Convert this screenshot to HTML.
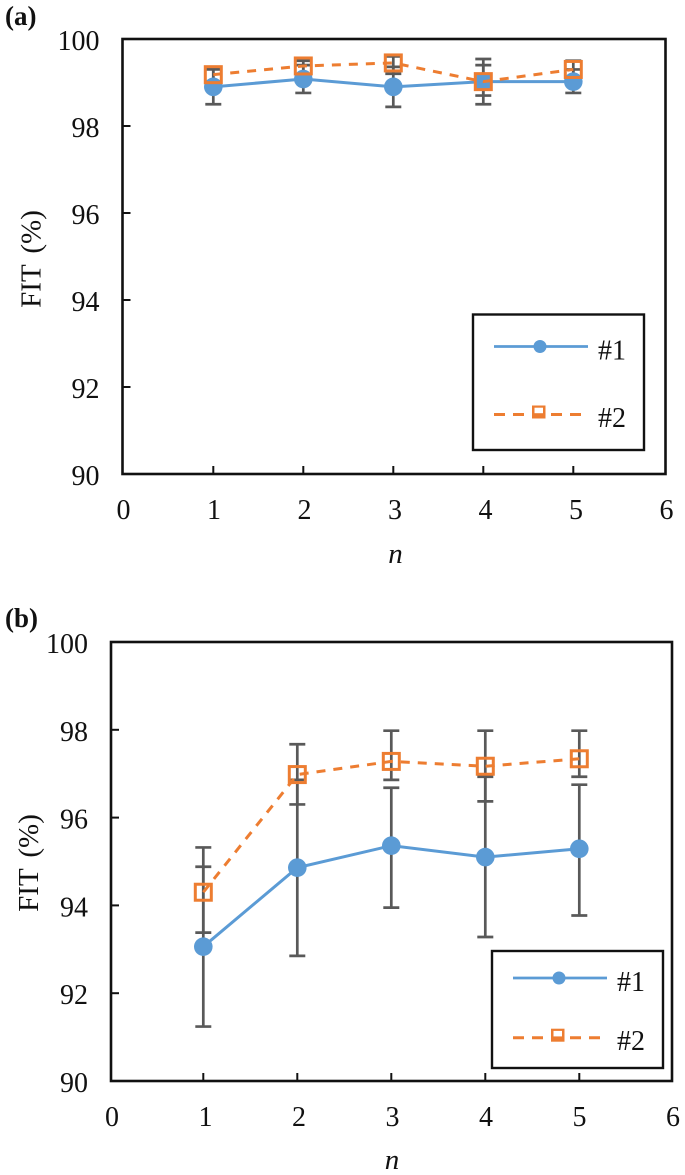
<!DOCTYPE html>
<html lang="en">
<head>
<meta charset="utf-8">
<title>FIT versus n</title>
<style>
html,body{margin:0;padding:0;background:#fff;}
svg{display:block;}
text{font-family:"Liberation Serif",serif;fill:#111;}
</style>
</head>
<body>
<svg id="figure" width="685" height="1175" viewBox="0 0 685 1175" xmlns="http://www.w3.org/2000/svg"></svg>
<script>
// Shared tick labels
const xTickLabels = [0, 1, 2, 3, 4, 5, 6];
const yTickLabels = [90, 92, 94, 96, 98, 100];
const nValues = [1, 2, 3, 4, 5];

// Panel (a) values
const aSeries1 = [98.9, 99.08, 98.9, 99.02, 99.02];
const aSeries1Low = [98.5, 98.76, 98.44, 98.5, 98.76];
const aSeries1High = [99.3, 99.4, 99.36, 99.54, 99.3];
const aSeries2 = [99.18, 99.38, 99.45, 99.02, 99.3];
const aSeries2Low = [99.02, 99.2, 99.2, 98.7, 99.1];
const aSeries2High = [99.34, 99.5, 99.6, 99.4, 99.5];

// Panel (b) values
const bSeries1 = [93.06, 94.86, 95.36, 95.1, 95.29];
const bSeries1Low = [91.24, 92.85, 93.95, 93.28, 93.77];
const bSeries1High = [94.88, 96.86, 96.68, 96.93, 96.75];
const bSeries2 = [94.3, 96.98, 97.28, 97.17, 97.34];
const bSeries2Low = [93.38, 96.3, 96.86, 96.37, 96.93];
const bSeries2High = [95.32, 97.67, 97.98, 97.98, 97.98];

const svg = document.getElementById('figure');
const NS = 'http://www.w3.org/2000/svg';
const BLUE = '#5b9bd5', ORANGE = '#ed7d31', GREY = '#595959', BLACK = '#111';

function make(tag, parent, attrs, content) {
  const el = document.createElementNS(NS, tag);
  for (const k in attrs) el.setAttribute(k, attrs[k]);
  if (content !== undefined) el.textContent = content;
  parent.appendChild(el);
  return el;
}

function drawPanel(p) {
  const g = make('g', svg, {});
  
  

  const xScale = v => p.x0 + v * p.xStep;
  const xLabelScale = v => p.left + v / 6 * (p.right - p.left);
  const yScale = v => p.bottom - (v - 90) / 10 * (p.bottom - p.top);

  const plotArea = make('rect', g, {x: p.left, y: p.top, width: p.right - p.left, height: p.bottom - p.top, fill: '#fff', stroke: BLACK, 'stroke-width': 2.6});
  
  

  const panelLabel = make('text', g, {x: 5, y: p.labelY, 'font-size': 27, 'font-weight': 'bold'}, '(' + p.id + ')');
  
  

  xTickLabels.forEach(t => {
    if (t > 0 && t < 6) {
      const x = xScale(t);
      const tick = make('line', g, {x1: x, x2: x, y1: p.bottom, y2: p.bottom - 8, stroke: BLACK, 'stroke-width': 2});
      
      
    }
    const label = make('text', g, {x: xLabelScale(t) + 1, y: p.bottom + 45, 'font-size': 28, 'text-anchor': 'middle'}, t);
    
    
  });

  yTickLabels.forEach(t => {
    const y = yScale(t);
    if (t > 90 && t < 100) {
      const tick = make('line', g, {x1: p.left, x2: p.left + 8, y1: y, y2: y, stroke: BLACK, 'stroke-width': 2});
      
      
    }
    const label = make('text', g, {x: p.left - 23, y: y + 11, 'font-size': 28, 'text-anchor': 'end'}, t);
    
    
  });

  const yTitle = make('text', g, {x: 0, y: 0, 'font-size': 29, 'word-spacing': 4, 'text-anchor': 'middle', transform: 'translate(' + p.yTitleX + ' ' + p.yTitleY + ') rotate(-90)'}, 'FIT (%)');
  
  

  const xTitle = make('text', g, {x: p.xTitleX, y: p.xTitleY, 'font-size': 29, 'font-style': 'italic', 'text-anchor': 'middle'}, 'n');
  
  

  // Error bars
  const drawErrors = (low, high, name) => {
    nValues.forEach((n, i) => {
      const x = xScale(n), y1 = yScale(low[i]), y2 = yScale(high[i]);
      const bar = make('path', g, {d: 'M' + x + ' ' + y1 + 'V' + y2 + 'M' + (x - 8) + ' ' + y1 + 'H' + (x + 8) + 'M' + (x - 8) + ' ' + y2 + 'H' + (x + 8), fill: 'none', stroke: GREY, 'stroke-width': 2.7});
      
      
    });
  };
  drawErrors(p.s1Low, p.s1High, 'error-bar-series-1');
  drawErrors(p.s2Low, p.s2High, 'error-bar-series-2');

  // Series 1
  const pts1 = nValues.map((n, i) => xScale(n) + ',' + yScale(p.s1[i])).join(' ');
  const line1 = make('polyline', g, {points: pts1, fill: 'none', stroke: BLUE, 'stroke-width': 3});
  
  
  nValues.forEach((n, i) => {
    const dot = make('circle', g, {cx: xScale(n), cy: yScale(p.s1[i]), r: 9.3, fill: BLUE});
    
    
  });

  // Series 2
  const pts2 = nValues.map((n, i) => xScale(n) + ',' + yScale(p.s2[i])).join(' ');
  const line2 = make('polyline', g, {points: pts2, fill: 'none', stroke: ORANGE, 'stroke-width': 3, 'stroke-dasharray': '9 8'});
  
  
  nValues.forEach((n, i) => {
    const sq = make('rect', g, {x: xScale(n) - 8, y: yScale(p.s2[i]) - 8, width: 16, height: 16, fill: 'none', stroke: ORANGE, 'stroke-width': 3});
    
    
  });

  // Legend
  const L = p.legend;
  const legend = make('g', g, {});
  
  
  const legendBox = make('rect', legend, {x: L.x, y: L.y, width: L.w, height: L.h, fill: '#fff', stroke: BLACK, 'stroke-width': 2.4});
  
  

  const key1 = make('line', legend, {x1: L.x + 21, x2: L.x + 115, y1: L.y1, y2: L.y1, stroke: BLUE, 'stroke-width': 2.8});
  
  
  const keyDot = make('circle', legend, {cx: L.x + 67, cy: L.y1, r: 6.5, fill: BLUE});
  
  
  const text1 = make('text', legend, {x: L.x + 125, y: L.y1 + 13, 'font-size': 28}, '#1');
  
  

  const key2 = make('line', legend, {x1: L.x + 21, x2: L.x + 108, y1: L.y2, y2: L.y2, stroke: ORANGE, 'stroke-width': 3, 'stroke-dasharray': '11 8'});
  
  
  const keyGapPatch = make('rect', legend, {x: L.x + 52, y: L.y2 - 3, width: 26, height: 6, fill: '#fff'});
  
  
  const keyFill = make('rect', legend, {x: L.x + 59, y: L.y2 - 9, width: 13.5, height: 13, fill: ORANGE});
  
  
  const keyHole = make('rect', legend, {x: L.x + 61.5, y: L.y2 - 6.8, width: 8.5, height: 5.5, fill: '#fff'});
  
  
  const text2 = make('text', legend, {x: L.x + 125, y: L.y2 + 12.5, 'font-size': 28}, '#2');
  
  
}

drawPanel({
  id: 'a', left: 122.5, right: 665.5, top: 39, bottom: 474, labelY: 25,
  x0: 123.3, xStep: 90,
  yTitleX: 40.5, yTitleY: 259, xTitleX: 395.5, xTitleY: 563,
  s1: aSeries1, s1Low: aSeries1Low, s1High: aSeries1High,
  s2: aSeries2, s2Low: aSeries2Low, s2High: aSeries2High,
  legend: {x: 473, y: 314.5, w: 171, h: 135.5, y1: 346.5, y2: 414.5}
});
drawPanel({
  id: 'b', left: 111, right: 672, top: 642, bottom: 1081, labelY: 627,
  x0: 109.3, xStep: 94,
  yTitleX: 38, yTitleY: 863, xTitleX: 392, xTitleY: 1169,
  s1: bSeries1, s1Low: bSeries1Low, s1High: bSeries1High,
  s2: bSeries2, s2Low: bSeries2Low, s2High: bSeries2High,
  legend: {x: 492, y: 951, w: 171, h: 117, y1: 978, y2: 1037.7}
});
</script>
</body>
</html>
